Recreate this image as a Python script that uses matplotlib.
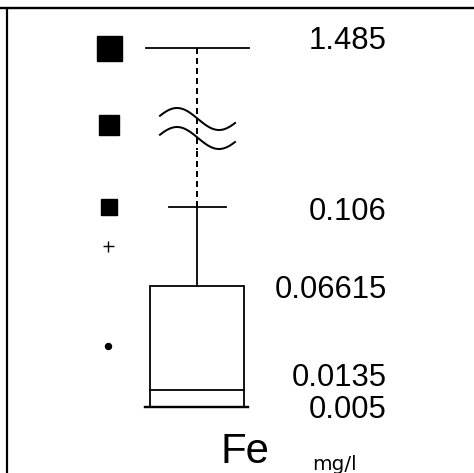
#!/usr/bin/env python3
"""
Box plot of Fe (mg/l) with a broken value axis:
box = lower value / median / upper quartile, whisker cap, max beyond the break,
and the symbol column on the left.
"""

import numpy as np
import matplotlib
matplotlib.use('Agg')
import matplotlib.pyplot as plt

# --- data (mg/l) -----------------------------------------------------------
box_low = 0.005
box_median = 0.0135
box_high = 0.06615
whisker_cap = 0.106
value_max = 1.485

label_values = [1.485, 0.106, 0.06615, 0.0135, 0.005]
label_texts = ['1.485', '0.106', '0.06615', '0.0135', '0.005']

# symbol column on the left (value each symbol stands at)
symbol_values = [0.106, 0.0864, 0.0358]
symbol_markers = ['s', '+', 'o']

# --- layout (pixels, figure is 474 x 473) ----------------------------------
W, H = 474, 473
DPI = 100
PT = 72.0 / DPI          # points per pixel

x_box = 197              # box centre
x_sym = 108              # symbol column
split_px = 150           # where the value axis is broken
break_px = 125           # y of the wave symbol

font = ['Liberation Sans', 'DejaVu Sans']

fig = plt.figure(figsize=(W / DPI, H / DPI), dpi=DPI)
fig.patch.set_facecolor('white')

# background axes in pixel coordinates (frame, break symbol, titles)
bg = fig.add_axes([0, 0, 1, 1])
bg.set_xlim(0, W)
bg.set_ylim(H, 0)
bg.axis('off')

# lower part of the value axis (linear)
ax_lo = fig.add_axes([0, 0, 1, (H - split_px) / H])
ax_lo.set_xlim(0, W)
ax_lo.set_ylim(-0.02836, 0.13488)

# upper part of the value axis (around the maximum)
ax_hi = fig.add_axes([0, (H - split_px) / H, 1, split_px / H])
ax_hi.set_xlim(0, W)
ax_hi.set_ylim(1.43345, 1.50926)

for ax in (ax_lo, ax_hi):
    ax.axis('off')
    ax.patch.set_alpha(0)

# frame lines
bg.plot([0, W], [8, 8], color='black', lw=2.4 * PT, solid_capstyle='butt')
bg.plot([7, 7], [8, H], color='black', lw=2.2 * PT, solid_capstyle='butt')

# dashed whisker from the cap up to the maximum (drawn in both halves)
for ax in (ax_lo, ax_hi):
    ax.plot([x_box, x_box], [whisker_cap, value_max], color='black',
            lw=2.0 * PT, dashes=(3, 2))

# maximum line
ax_hi.plot([x_box - 51, x_box + 52], [value_max, value_max], color='black',
           lw=1.8 * PT)
ax_hi.plot([x_sym + 1], [value_max], marker='s', color='black',
           markersize=25 * PT, linestyle='none')

# break symbol with its square
xs = np.linspace(x_box - 37, x_box + 38, 80)
wave = -11 * np.sin(2 * np.pi * (xs - (x_box - 41)) / 84)
bg.plot(xs, break_px - 6 + wave, color='black', lw=2.0 * PT)
bg.plot(xs, break_px + 13 + wave, color='black', lw=2.0 * PT)
bg.plot([x_sym + 1], [break_px], marker='s', color='black',
        markersize=20 * PT, linestyle='none')

# whisker cap and solid whisker
ax_lo.plot([x_box - 28, x_box + 29], [whisker_cap, whisker_cap], color='black',
           lw=1.8 * PT)
ax_lo.plot([x_box, x_box], [box_high, whisker_cap], color='black', lw=1.8 * PT)

# box
ax_lo.add_patch(plt.Rectangle((x_box - 47, box_low), 94, box_high - box_low,
                              fill=False, edgecolor='black', lw=1.8 * PT))
ax_lo.plot([x_box - 47, x_box + 47], [box_median, box_median], color='black',
           lw=1.8 * PT)
ax_lo.plot([x_box - 52, x_box + 51], [box_low, box_low], color='black',
           lw=2.4 * PT)

# symbol column
sym_size = {'s': 16, '+': 11, 'o': 6}
for v, m in zip(symbol_values, symbol_markers):
    ax_lo.plot([x_sym + 1 if m == 's' else x_sym], [v], marker=m, color='black',
               markersize=sym_size[m] * PT, markeredgewidth=1.4 * PT,
               linestyle='none')

# value labels (baseline offsets in pixels so they do not collide)
label_offsets = [-1, -13, -12, 4, -11]
for v, t, off in zip(label_values, label_texts, label_offsets):
    ax = ax_hi if v > 1 else ax_lo
    ax.annotate(t, xy=(387, v), xytext=(0, off), textcoords='offset pixels',
                ha='right', va='baseline', fontsize=31 * PT,
                family=font, color='black')

# parameter name and unit
bg.text(221, 463, 'Fe', ha='left', va='baseline', fontsize=42 * PT,
        family=font, color='black')
bg.text(312, 470, 'mg/l', ha='left', va='baseline', fontsize=20 * PT,
        family=['DejaVu Sans'], color='black')

fig.savefig('out.png', dpi=DPI, facecolor='white')
